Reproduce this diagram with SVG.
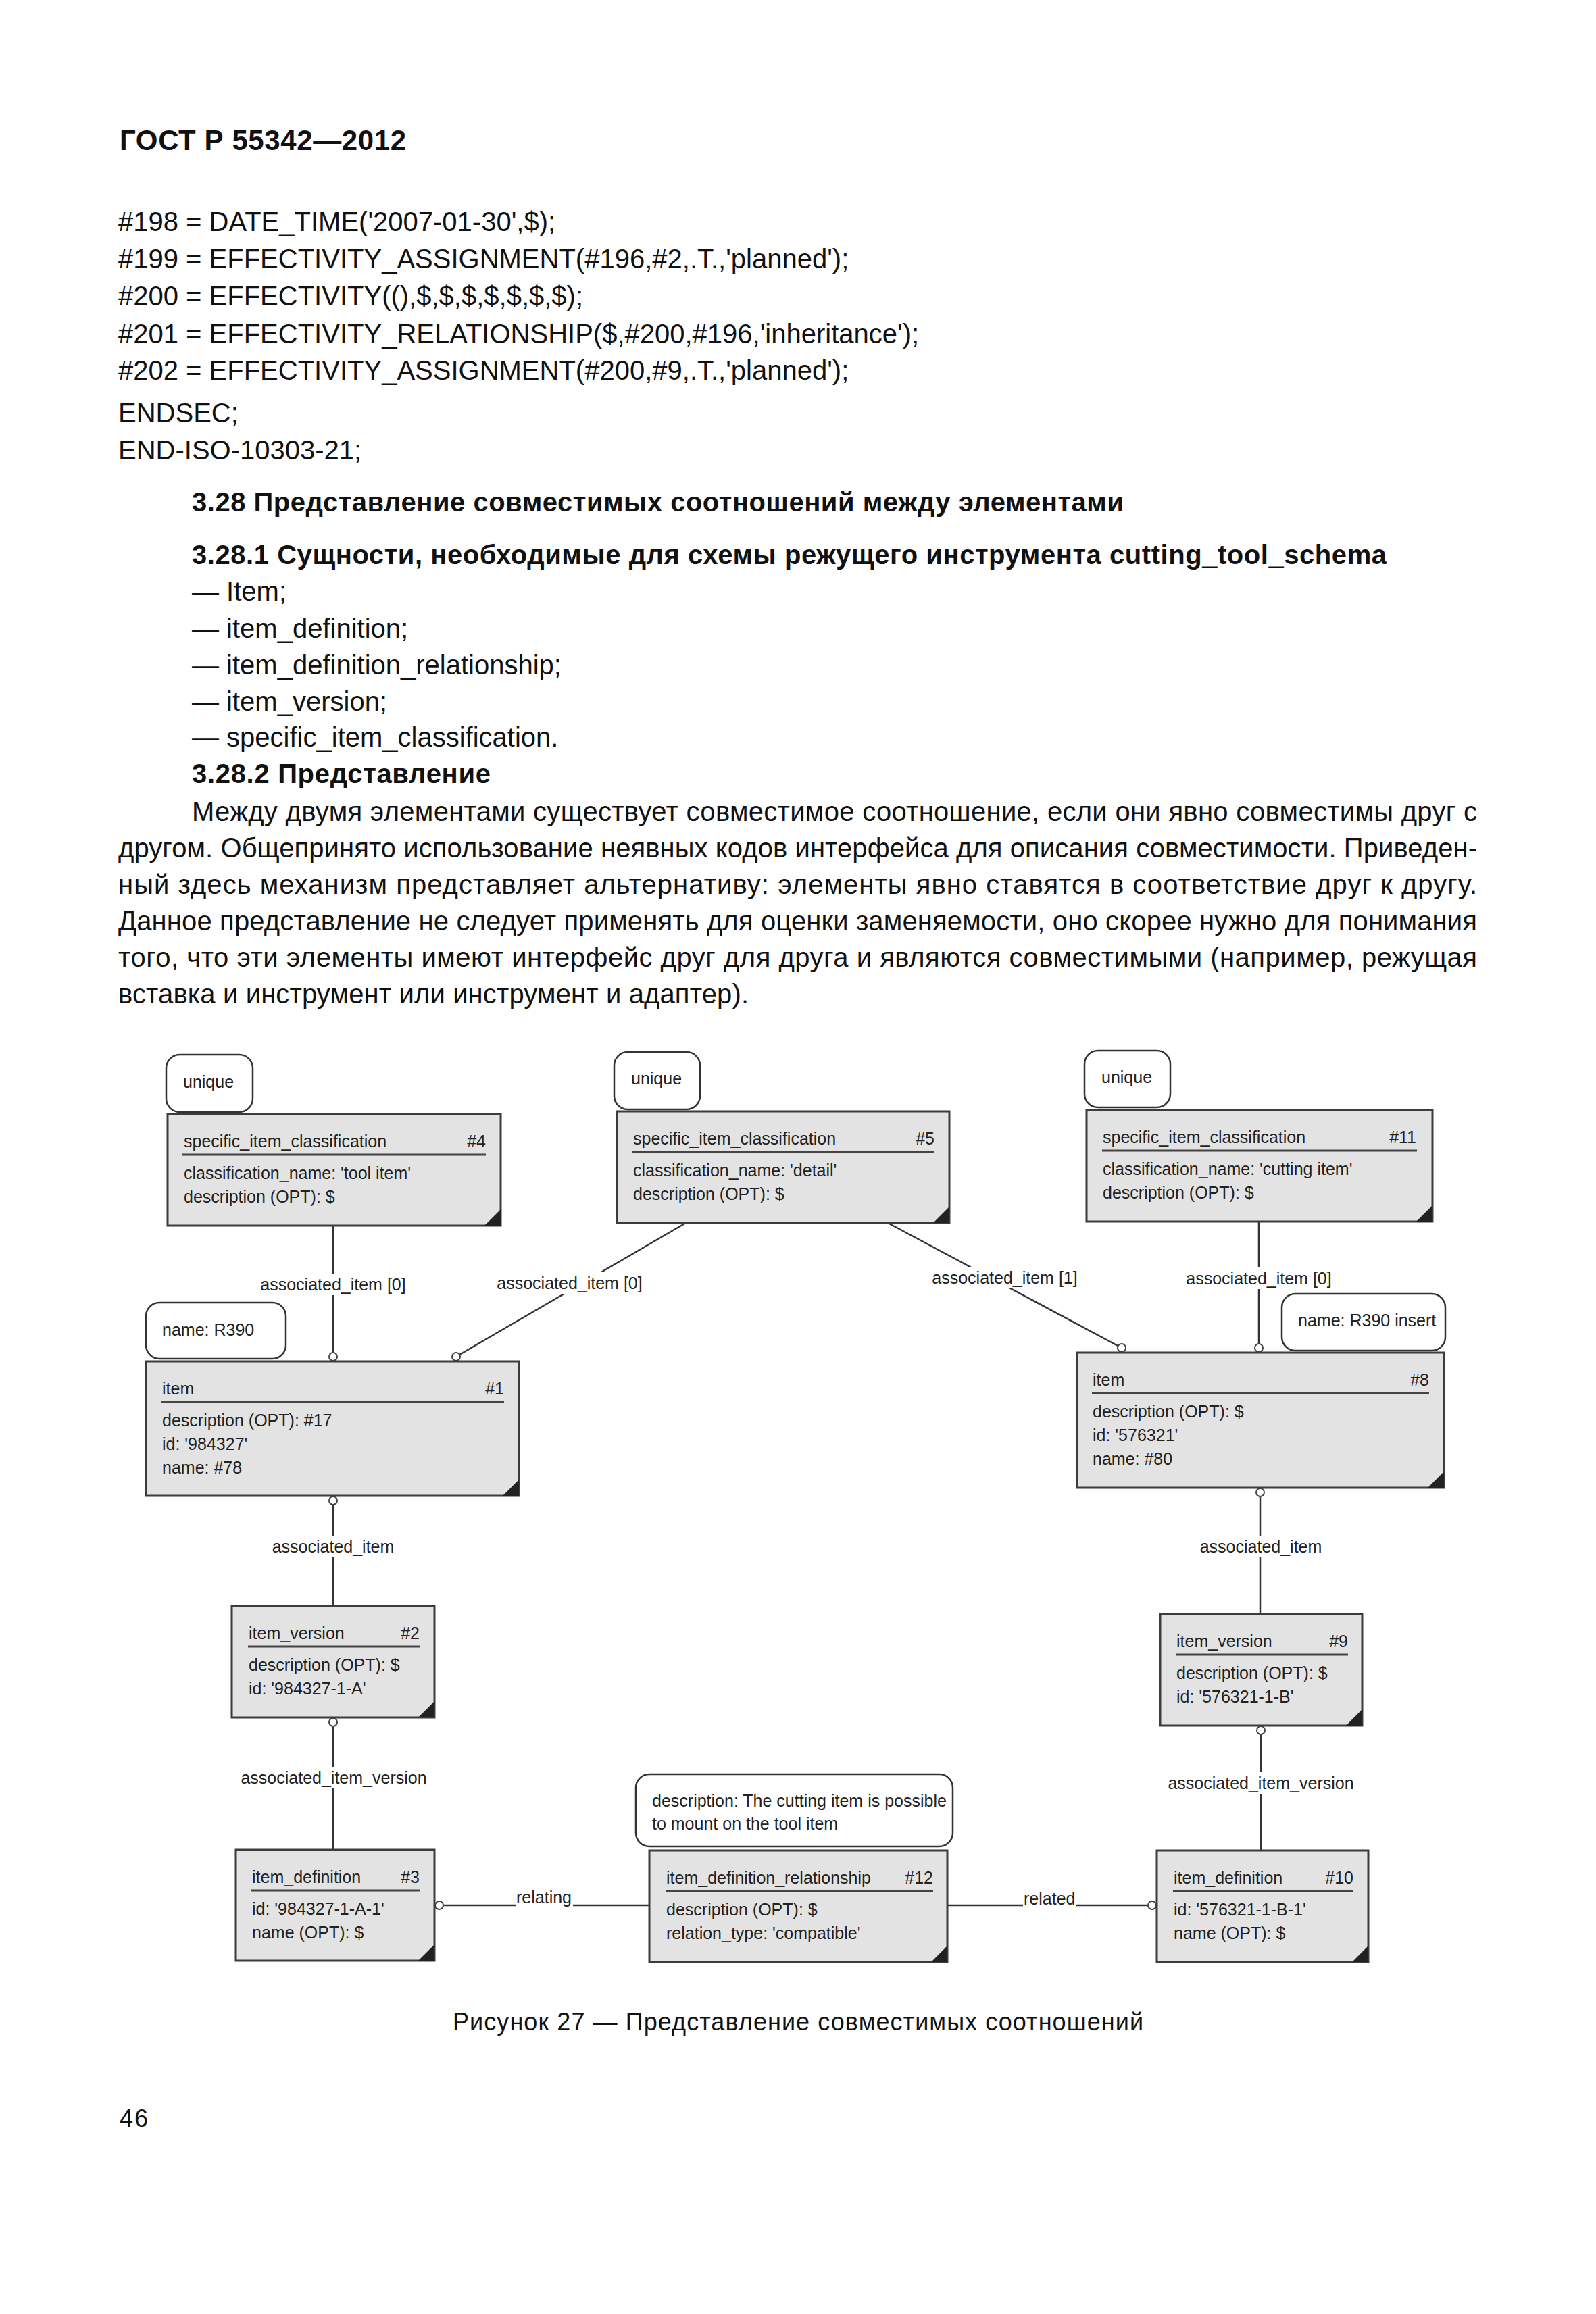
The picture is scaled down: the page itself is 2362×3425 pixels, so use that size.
<svg xmlns="http://www.w3.org/2000/svg" width="2362" height="3425" viewBox="0 0 2362 3425">
<style>
.t{font-family:"Liberation Sans",Arial,sans-serif;font-size:40px;fill:#111}
.b{font-weight:bold}
.h{font-size:42px}
.s{font-size:36px}
.d{font-family:"Liberation Sans",Arial,sans-serif;font-size:25px;fill:#222}
.e{text-anchor:end}
.m{text-anchor:middle}
.box{fill:#e3e3e3;stroke:#3c3c3c;stroke-width:3}
.note{fill:#fff;stroke:#333;stroke-width:2.5}
.ul{stroke:#444;stroke-width:3}
.tri{fill:#222}
.ln{stroke:#333;stroke-width:2.5;fill:none}
.circ{fill:#fff;stroke:#444;stroke-width:2}
.lbg{fill:#fff}
</style>
<rect width="2362" height="3425" fill="#fff"/>

<g id="page-text">
<text class="t b h" x="177" y="222" textLength="424">ГОСТ Р 55342—2012</text>
<text class="t" x="175" y="342">#198 = DATE_TIME('2007-01-30',$);</text>
<text class="t" x="175" y="397">#199 = EFFECTIVITY_ASSIGNMENT(#196,#2,.T.,'planned');</text>
<text class="t" x="175" y="452">#200 = EFFECTIVITY((),$,$,$,$,$,$,$);</text>
<text class="t" x="175" y="508">#201 = EFFECTIVITY_RELATIONSHIP($,#200,#196,'inheritance');</text>
<text class="t" x="175" y="562">#202 = EFFECTIVITY_ASSIGNMENT(#200,#9,.T.,'planned');</text>
<text class="t" x="175" y="625">ENDSEC;</text>
<text class="t" x="175" y="680">END-ISO-10303-21;</text>
<text class="t b" x="284" y="757" textLength="1379">3.28 Представление совместимых соотношений между элементами</text>
<text class="t b" x="284" y="835" textLength="1768">3.28.1 Сущности, необходимые для схемы режущего инструмента cutting_tool_schema</text>
<text class="t" x="284" y="889">— Item;</text>
<text class="t" x="284" y="944">— item_definition;</text>
<text class="t" x="284" y="998">— item_definition_relationship;</text>
<text class="t" x="284" y="1052">— item_version;</text>
<text class="t" x="284" y="1105">— specific_item_classification.</text>
<text class="t b" x="284" y="1159" textLength="442">3.28.2 Представление</text>
<text class="t" x="284" y="1215" textLength="1902">Между двумя элементами существует совместимое соотношение, если они явно совместимы друг с</text>
<text class="t" x="175" y="1269" textLength="2011">другом. Общепринято использование неявных кодов интерфейса для описания совместимости. Приведен-</text>
<text class="t" x="175" y="1323" textLength="2011">ный здесь механизм представляет альтернативу: элементы явно ставятся в соответствие друг к другу.</text>
<text class="t" x="175" y="1377" textLength="2011">Данное представление не следует применять для оценки заменяемости, оно скорее нужно для понимания</text>
<text class="t" x="175" y="1431" textLength="2011">того, что эти элементы имеют интерфейс друг для друга и являются совместимыми (например, режущая</text>
<text class="t" x="175" y="1485" textLength="933">вставка и инструмент или инструмент и адаптер).</text>
<text class="t s" x="670" y="3005" textLength="1022">Рисунок 27 — Представление совместимых соотношений</text>
<text class="t s" x="177" y="3148" letter-spacing="2">46</text>
</g>

<g id="connectors">
<line class="ln" x1="493" y1="1814" x2="493" y2="2008"/>
<line class="ln" x1="1015" y1="1810" x2="675" y2="2008"/>
<line class="ln" x1="1314" y1="1810" x2="1660" y2="1995"/>
<line class="ln" x1="1863" y1="1808" x2="1863" y2="1995"/>
<line class="ln" x1="493" y1="2221" x2="493" y2="2377"/>
<line class="ln" x1="1865" y1="2209" x2="1865" y2="2389"/>
<line class="ln" x1="493" y1="2549" x2="493" y2="2738"/>
<line class="ln" x1="1866" y1="2561" x2="1866" y2="2739"/>
<line class="ln" x1="650" y1="2820" x2="961" y2="2820"/>
<line class="ln" x1="1402" y1="2820" x2="1705" y2="2820"/>

<rect class="lbg" x="384" y="1885" width="218" height="32"/>
<text class="d m" x="493" y="1910">associated_item [0]</text>
<rect class="lbg" x="734" y="1883" width="218" height="32"/>
<text class="d m" x="843" y="1908">associated_item [0]</text>
<rect class="lbg" x="1378" y="1875" width="218" height="32"/>
<text class="d m" x="1487" y="1900">associated_item [1]</text>
<rect class="lbg" x="1754" y="1876" width="218" height="32"/>
<text class="d m" x="1863" y="1901">associated_item [0]</text>
<rect class="lbg" x="401" y="2273" width="184" height="32"/>
<text class="d m" x="493" y="2298">associated_item</text>
<rect class="lbg" x="1774" y="2273" width="184" height="32"/>
<text class="d m" x="1866" y="2298">associated_item</text>
<rect class="lbg" x="355" y="2615" width="278" height="32"/>
<text class="d m" x="494" y="2640">associated_item_version</text>
<rect class="lbg" x="1727" y="2623" width="278" height="32"/>
<text class="d m" x="1866" y="2648">associated_item_version</text>
<rect class="lbg" x="763" y="2796" width="85" height="30"/>
<text class="d" x="764" y="2817">relating</text>
<rect class="lbg" x="1514" y="2798" width="79" height="30"/>
<text class="d" x="1515" y="2819">related</text>

<circle class="circ" cx="493" cy="2008" r="6"/>
<circle class="circ" cx="675" cy="2008" r="6"/>
<circle class="circ" cx="1660" cy="1995" r="6"/>
<circle class="circ" cx="1863" cy="1995" r="6"/>
<circle class="circ" cx="493" cy="2221" r="6"/>
<circle class="circ" cx="1865" cy="2209" r="6"/>
<circle class="circ" cx="493" cy="2549" r="6"/>
<circle class="circ" cx="1866" cy="2561" r="6"/>
<circle class="circ" cx="650" cy="2820" r="6"/>
<circle class="circ" cx="1705" cy="2820" r="6"/>
</g>

<g id="note-unique-4">
<rect class="note" x="246" y="1561" width="128" height="85" rx="20"/>
<text class="d" x="271" y="1610">unique</text>
</g>
<g id="node-4">
<rect class="box" x="248" y="1649" width="493" height="165"/>
<polygon class="tri" points="741,1790 741,1814 717,1814"/>
<text class="d" x="272" y="1698">specific_item_classification</text>
<text class="d e" x="719" y="1698">#4</text>
<line class="ul" x1="270" y1="1709" x2="719" y2="1709"/>
<text class="d" x="272" y="1745">classification_name: 'tool item'</text>
<text class="d" x="272" y="1780">description (OPT): $</text>
</g>

<g id="note-unique-5">
<rect class="note" x="909" y="1557" width="127" height="85" rx="20"/>
<text class="d" x="934" y="1605">unique</text>
</g>
<g id="node-5">
<rect class="box" x="913" y="1645" width="492" height="165"/>
<polygon class="tri" points="1405,1786 1405,1810 1381,1810"/>
<text class="d" x="937" y="1694">specific_item_classification</text>
<text class="d e" x="1383" y="1694">#5</text>
<line class="ul" x1="935" y1="1705" x2="1383" y2="1705"/>
<text class="d" x="937" y="1741">classification_name: 'detail'</text>
<text class="d" x="937" y="1776">description (OPT): $</text>
</g>

<g id="note-unique-11">
<rect class="note" x="1605" y="1555" width="127" height="84" rx="20"/>
<text class="d" x="1630" y="1603">unique</text>
</g>
<g id="node-11">
<rect class="box" x="1608" y="1643" width="512" height="165"/>
<polygon class="tri" points="2120,1784 2120,1808 2096,1808"/>
<text class="d" x="1632" y="1692">specific_item_classification</text>
<text class="d e" x="2096" y="1692">#11</text>
<line class="ul" x1="1631" y1="1703" x2="2097" y2="1703"/>
<text class="d" x="1632" y="1739">classification_name: 'cutting item'</text>
<text class="d" x="1632" y="1774">description (OPT): $</text>
</g>

<g id="note-name-1">
<rect class="note" x="216" y="1928" width="207" height="83" rx="20"/>
<text class="d" x="240" y="1977">name: R390</text>
</g>
<g id="node-1">
<rect class="box" x="216" y="2015" width="552" height="199"/>
<polygon class="tri" points="768,2190 768,2214 744,2214"/>
<text class="d" x="240" y="2064">item</text>
<text class="d e" x="746" y="2064">#1</text>
<line class="ul" x1="239" y1="2075" x2="746" y2="2075"/>
<text class="d" x="240" y="2111">description (OPT): #17</text>
<text class="d" x="240" y="2146">id: '984327'</text>
<text class="d" x="240" y="2181">name: #78</text>
</g>

<g id="note-name-8">
<rect class="note" x="1897" y="1915" width="242" height="84" rx="20"/>
<text class="d" x="1921" y="1963">name: R390 insert</text>
</g>
<g id="node-8">
<rect class="box" x="1594" y="2002" width="543" height="200"/>
<polygon class="tri" points="2137,2178 2137,2202 2113,2202"/>
<text class="d" x="1617" y="2051">item</text>
<text class="d e" x="2115" y="2051">#8</text>
<line class="ul" x1="1616" y1="2062" x2="2115" y2="2062"/>
<text class="d" x="1617" y="2098">description (OPT): $</text>
<text class="d" x="1617" y="2133">id: '576321'</text>
<text class="d" x="1617" y="2168">name: #80</text>
</g>

<g id="node-2">
<rect class="box" x="343" y="2377" width="300" height="165"/>
<polygon class="tri" points="643,2518 643,2542 619,2542"/>
<text class="d" x="368" y="2426">item_version</text>
<text class="d e" x="621" y="2426">#2</text>
<line class="ul" x1="367" y1="2437" x2="621" y2="2437"/>
<text class="d" x="368" y="2473">description (OPT): $</text>
<text class="d" x="368" y="2508">id: '984327-1-A'</text>
</g>

<g id="node-9">
<rect class="box" x="1717" y="2389" width="299" height="165"/>
<polygon class="tri" points="2016,2530 2016,2554 1992,2554"/>
<text class="d" x="1741" y="2438">item_version</text>
<text class="d e" x="1995" y="2438">#9</text>
<line class="ul" x1="1740" y1="2449" x2="1995" y2="2449"/>
<text class="d" x="1741" y="2485">description (OPT): $</text>
<text class="d" x="1741" y="2520">id: '576321-1-B'</text>
</g>

<g id="node-3">
<rect class="box" x="349" y="2738" width="294" height="164"/>
<polygon class="tri" points="643,2878 643,2902 619,2902"/>
<text class="d" x="373" y="2787">item_definition</text>
<text class="d e" x="621" y="2787">#3</text>
<line class="ul" x1="372" y1="2798" x2="621" y2="2798"/>
<text class="d" x="373" y="2834">id: '984327-1-A-1'</text>
<text class="d" x="373" y="2869">name (OPT): $</text>
</g>

<g id="note-description-12">
<rect class="note" x="941" y="2626" width="469" height="107" rx="20"/>
<text class="d" x="965" y="2674">description: The cutting item is possible</text>
<text class="d" x="965" y="2708">to mount on the tool item</text>
</g>
<g id="node-12">
<rect class="box" x="961" y="2739" width="441" height="165"/>
<polygon class="tri" points="1402,2880 1402,2904 1378,2904"/>
<text class="d" x="986" y="2788">item_definition_relationship</text>
<text class="d e" x="1381" y="2788">#12</text>
<line class="ul" x1="985" y1="2799" x2="1381" y2="2799"/>
<text class="d" x="986" y="2835">description (OPT): $</text>
<text class="d" x="986" y="2870">relation_type: 'compatible'</text>
</g>

<g id="node-10">
<rect class="box" x="1712" y="2739" width="313" height="165"/>
<polygon class="tri" points="2025,2880 2025,2904 2001,2904"/>
<text class="d" x="1737" y="2788">item_definition</text>
<text class="d e" x="2003" y="2788">#10</text>
<line class="ul" x1="1736" y1="2799" x2="2003" y2="2799"/>
<text class="d" x="1737" y="2835">id: '576321-1-B-1'</text>
<text class="d" x="1737" y="2870">name (OPT): $</text>
</g>
</svg>
